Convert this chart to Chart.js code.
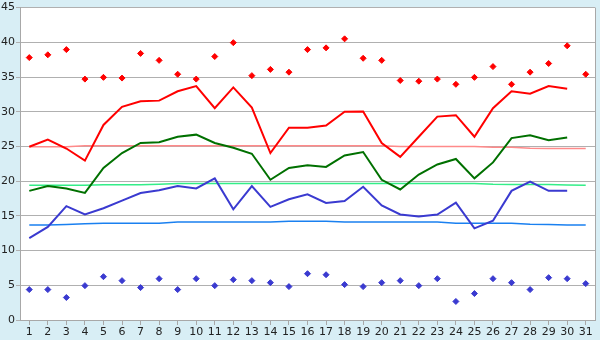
<!DOCTYPE html>
<html>
<head>
<meta charset="utf-8">
<script src="https://cdn.jsdelivr.net/npm/chart.js@4/dist/chart.umd.min.js"></script>
<style>
  html, body { margin: 0; padding: 0; background: #d8eef5; }
  #wrap { width: 600px; height: 340px; }
</style>
</head>
<body>
<div id="wrap"><canvas id="tempChart"></canvas></div>
<script>
// ======================================================
// Monthly temperature chart - data
// ======================================================

const days = Array.from({ length: 31 }, (_, i) => String(i + 1));

const yTicks = [0, 5, 10, 15, 20, 25, 30, 35, 40, 45];

const recordMax = [37.8, 38.2, 38.95, 34.7, 34.95, 34.85, 38.4, 37.4, 35.4, 34.7,
                   37.95, 39.95, 35.2, 36.1, 35.7, 38.95, 39.2, 40.5, 37.7, 37.4,
                   34.5, 34.4, 34.7, 33.95, 34.95, 36.5, 33.95, 35.7, 36.95, 39.5, 35.4];

const meanMax = [24.95, 26.0, 24.7, 22.95, 28.1, 30.7, 31.5, 31.6, 32.95, 33.7,
                 30.5, 33.5, 30.6, 24.05, 27.7, 27.7, 28.0, 30.0, 30.05, 25.5,
                 23.5, 26.4, 29.3, 29.5, 26.4, 30.5, 32.95, 32.6, 33.7, 33.3, null];

const normalMax = [24.95, 24.95, 24.95, 25.1, 25.1, 25.1, 25.1, 25.1, 25.1, 25.1,
                   25.1, 25.1, 25.1, 25.1, 25.1, 25.1, 25.1, 25.1, 25.1, 25.1,
                   25.0, 25.0, 25.0, 25.0, 25.0, 24.9, 24.9, 24.75, 24.7, 24.7, 24.7];

const meanTemp = [18.6, 19.3, 18.95, 18.3, 21.9, 24.05, 25.5, 25.6, 26.4, 26.7,
                  25.5, 24.8, 23.95, 20.2, 21.9, 22.3, 22.05, 23.7, 24.2, 20.2,
                  18.8, 20.95, 22.4, 23.2, 20.4, 22.7, 26.2, 26.6, 25.9, 26.3, null];

const normalMean = [19.4, 19.4, 19.4, 19.4, 19.5, 19.5, 19.5, 19.55, 19.65, 19.65,
                    19.67, 19.67, 19.67, 19.67, 19.67, 19.67, 19.67, 19.67, 19.67, 19.67,
                    19.67, 19.67, 19.67, 19.67, 19.67, 19.55, 19.52, 19.52, 19.52, 19.45, 19.4];

const meanMin = [11.8, 13.4, 16.4, 15.2, 16.1, 17.2, 18.3, 18.7, 19.3, 18.95,
                 20.4, 15.95, 19.3, 16.3, 17.4, 18.1, 16.85, 17.15, 19.2, 16.5,
                 15.2, 14.9, 15.2, 16.9, 13.2, 14.3, 18.6, 19.95, 18.6, 18.6, null];

const normalMin = [13.67, 13.67, 13.75, 13.85, 13.95, 13.95, 13.95, 13.95, 14.1, 14.1,
                   14.1, 14.1, 14.1, 14.1, 14.24, 14.24, 14.24, 14.1, 14.1, 14.1,
                   14.1, 14.1, 14.1, 13.95, 13.95, 13.95, 13.95, 13.8, 13.75, 13.67, 13.67];

const recordMin = [4.38, 4.38, 3.24, 4.95, 6.24, 5.67, 4.67, 5.95, 4.38, 5.95,
                   4.95, 5.81, 5.67, 5.38, 4.81, 6.67, 6.52, 5.1, 4.81, 5.38,
                   5.67, 4.95, 5.95, 2.67, 3.81, 5.95, 5.38, 4.38, 6.1, 5.95, 5.24];

// ======================================================
// Plot area background + right border
// ======================================================

const plotFrame = {
    id: "plotFrame",
    beforeDraw(chart) {
        const a = chart.chartArea;
        const ctx = chart.ctx;
        ctx.save();
        ctx.fillStyle = "#ffffff";
        ctx.fillRect(a.left, a.top, a.right - a.left, a.bottom - a.top);
        ctx.restore();
    },
    afterDraw(chart) {
        const a = chart.chartArea;
        const ctx = chart.ctx;
        ctx.save();
        ctx.strokeStyle = "#a8a8a8";
        ctx.lineWidth = 1;
        ctx.beginPath();
        ctx.moveTo(a.right + 0.5, a.top);
        ctx.lineTo(a.right + 0.5, a.bottom);
        ctx.stroke();
        ctx.restore();
    }
};

function lineSet(data, color, width, order) {
    return {
        data: data,
        borderColor: color,
        backgroundColor: color,
        borderWidth: width,
        pointRadius: 0,
        tension: 0,
        spanGaps: false,
        order: order
    };
}

function pointSet(data, color) {
    return {
        data: data,
        showLine: false,
        borderColor: color,
        backgroundColor: color,
        pointStyle: "rectRot",
        pointRadius: 3,
        pointBorderWidth: 1,
        order: 0
    };
}

new Chart(document.getElementById("tempChart"), {
    type: "line",
    data: {
        labels: days,
        datasets: [
            lineSet(normalMax, "#ff8a8a", 1.5, 5),
            lineSet(normalMean, "#33ee88", 1.5, 5),
            lineSet(normalMin, "#1a80f0", 1.5, 5),
            lineSet(meanMax, "#ff0000", 2, 2),
            lineSet(meanTemp, "#007000", 2, 2),
            lineSet(meanMin, "#3a3ad0", 2, 2),
            pointSet(recordMax, "#ff0000"),
            pointSet(recordMin, "#3a3ad0")
        ]
    },
    plugins: [plotFrame],
    options: {
        responsive: true,
        maintainAspectRatio: false,
        animation: false,
        layout: { padding: { top: 5, right: 5, left: 0, bottom: 0 } },
        plugins: {
            legend: { display: false },
            tooltip: { enabled: false }
        },
        scales: {
            x: {
                offset: true,
                grid: {
                    offset: false,
                    drawOnChartArea: false,
                    drawTicks: true,
                    tickLength: 5,
                    color: "#a8a8a8"
                },
                border: { color: "#a8a8a8" },
                ticks: {
                    color: "#222",
                    font: { family: "DejaVu Sans", size: 11 },
                    maxRotation: 0,
                    autoSkip: false,
                    padding: 1
                },
                afterFit(scale) { scale.height = 20; }
            },
            y: {
                min: 0,
                max: 45,
                afterBuildTicks(scale) {
                    scale.ticks = yTicks.map(v => ({ value: v }));
                },
                grid: {
                    color: "#b0b0b0",
                    tickLength: 4
                },
                border: { color: "#a8a8a8" },
                ticks: {
                    color: "#222",
                    font: { family: "DejaVu Sans", size: 11 },
                    padding: 1
                },
                afterFit(scale) { scale.width = 20; }
            }
        }
    }
});
</script>
</body>
</html>
